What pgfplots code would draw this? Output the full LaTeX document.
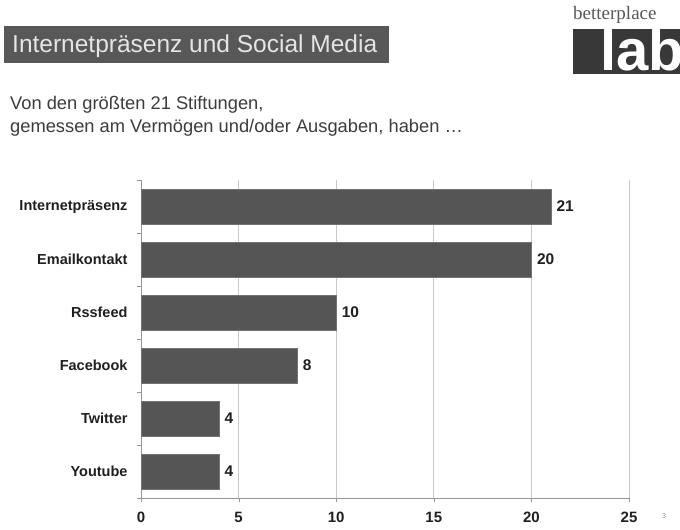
\documentclass[border=0pt]{standalone}
\usepackage{pgfplots}
\pgfplotsset{compat=1.18}
\usepackage{fontspec}
\setmainfont{Liberation Sans}
\newfontfamily\logofont{Liberation Serif}

\definecolor{barfill}{RGB}{85,85,85}
\definecolor{titlebox}{RGB}{88,88,88}
\definecolor{gridgray}{RGB}{200,200,200}
\definecolor{axisgray}{RGB}{150,150,150}
\definecolor{subtext}{RGB}{60,60,60}

\begin{document}
\begin{tikzpicture}
    % page frame: 1pt = 1 pixel of the reference, y measured upwards
    \useasboundingbox (0pt,0pt) rectangle (680pt,530pt);

    % title bar
    \fill[titlebox] (4pt,467pt) rectangle (389pt,504pt);
    \node[anchor=base west, text=white!90!black, font=\fontsize{24.5}{28}\selectfont, inner sep=0pt]
        at (12pt,477pt) {Internetpräsenz und Social Media};

    % logo
    \node[anchor=base west, text=black!65, font=\logofont\fontsize{19}{22}\selectfont, inner sep=0pt]
        at (573pt,510pt) {betterplace};
    \begin{scope}
        \clip (573pt,456pt) rectangle (680pt,501pt);
        \fill[black!78] (573pt,456pt) rectangle (680pt,501pt);
        \node[anchor=base west, text=white, font=\bfseries\fontsize{58}{60}\selectfont, inner sep=0pt]
            at (600pt,459pt) {lab};
    \end{scope}

    % subtitle
    \node[anchor=base west, text=subtext, font=\fontsize{18.3}{22}\selectfont, inner sep=0pt]
        at (10pt,420pt) {Von den größten 21 Stiftungen,};
    \node[anchor=base west, text=subtext, font=\fontsize{18.3}{22}\selectfont, inner sep=0pt]
        at (10pt,397pt) {gemessen am Vermögen und/oder Ausgaben, haben \dots};

    % page number
    \node[anchor=base west, text=black!45, font=\fontsize{7}{8}\selectfont, inner sep=0pt]
        at (662pt,11pt) {3};

    \begin{axis}[
        at               = {(141pt,32pt)},
        anchor           = south west,
        scale only axis,
        width            = 488pt,
        height           = 318pt,
        xbar,
        bar width        = 35pt,
        xmin             = 0,
        xmax             = 25,
        ymin             = -0.5,
        ymax             = 5.5,
        y dir            = reverse,
        xtick            = {0,5,...,25},
        ytick            = {0,...,5},
        yticklabels      = {Internetpräsenz, Emailkontakt, Rssfeed, Facebook, Twitter, Youtube},
        minor ytick      = {-0.5,0.5,...,5.5},
        major y tick style = {draw=none},
        minor y tick style = {draw=axisgray},
        x tick style     = {draw=axisgray},
        tick align       = outside,
        major tick length = 4pt,
        minor tick length = 4pt,
        xmajorgrids,
        grid style       = {gridgray, line width=0.8pt},
        axis x line*     = bottom,
        axis y line*     = left,
        axis line style  = {axisgray, line width=0.8pt, -},
        ticklabel style  = {font=\bfseries\fontsize{15}{16}\selectfont, text=black!88},
        yticklabel style = {font=\bfseries\fontsize{14.5}{16}\selectfont, xshift=-6pt},
        xticklabel style = {anchor=north, text height=11pt, text depth=0pt, yshift=-6pt},
        nodes near coords,
        nodes near coords style = {font=\bfseries\fontsize{15.5}{18}\selectfont, text=black!88, anchor=west, xshift=2pt},
        /pgf/number format/assume math mode=true,
        clip             = false]

        \addplot[fill=barfill, draw=black!55, line width=0.6pt]
            coordinates {
                (21,0)
                (20,1)
                (10,2)
                (8,3)
                (4,4)
                (4,5)
            };
    \end{axis}
\end{tikzpicture}
\end{document}
